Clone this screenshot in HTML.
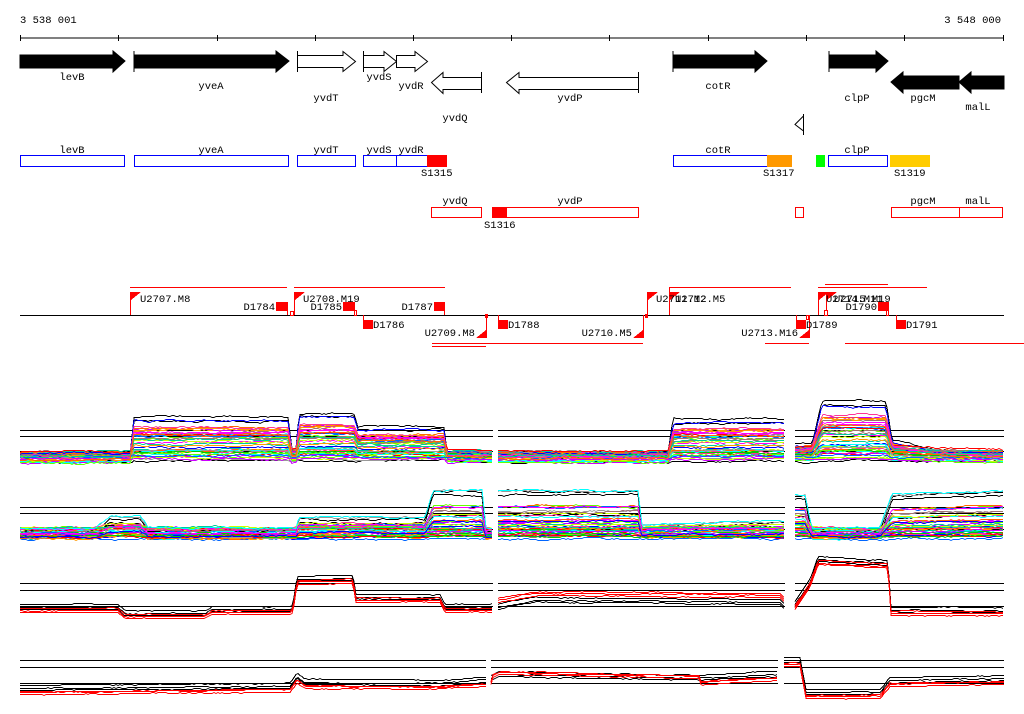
<!DOCTYPE html>
<html><head><meta charset="utf-8"><style>
html,body{margin:0;padding:0;background:#fff;width:1024px;height:714px;overflow:hidden}
svg{display:block}
text{font-family:"Liberation Mono","DejaVu Sans Mono",monospace;font-size:10.5px;fill:#000}
</style></head><body>
<svg id="s" width="1024" height="714" viewBox="0 0 1024 714" xmlns="http://www.w3.org/2000/svg" shape-rendering="crispEdges">
<!-- ruler -->
<text x="20" y="23">3 538 001</text>
<text x="1001" y="23" text-anchor="end">3 548 000</text>
<line x1="20" y1="38" x2="1004" y2="38" stroke="#000"/>
<g stroke="#000">
<line x1="20.5" y1="35" x2="20.5" y2="41"/><line x1="118.5" y1="35" x2="118.5" y2="41"/><line x1="217.5" y1="35" x2="217.5" y2="41"/><line x1="315.5" y1="35" x2="315.5" y2="41"/><line x1="413.5" y1="35" x2="413.5" y2="41"/><line x1="511.5" y1="35" x2="511.5" y2="41"/><line x1="609.5" y1="35" x2="609.5" y2="41"/><line x1="708.5" y1="35" x2="708.5" y2="41"/><line x1="806.5" y1="35" x2="806.5" y2="41"/><line x1="904.5" y1="35" x2="904.5" y2="41"/><line x1="1003.5" y1="35" x2="1003.5" y2="41"/>
</g>
<!-- gene arrows -->
<g stroke="#000" shape-rendering="auto">
<polygon points="20,55 113,55 113,51 125,61 113,72 113,68 20,68" fill="#000"/>
<polygon points="134,55 276,55 276,51 289,61 276,72 276,68 134,68" fill="#000"/>
<line x1="134" y1="51" x2="134" y2="72"/>
<polygon points="297.5,55.5 343,55.5 343,51.5 355.5,61.5 343,71.5 343,67.5 297.5,67.5" fill="#fff"/>
<line x1="297.5" y1="51" x2="297.5" y2="72"/>
<polygon points="363.5,55.5 384,55.5 384,51.5 396.5,61.5 384,71.5 384,67.5 363.5,67.5" fill="#fff"/>
<line x1="363.5" y1="51" x2="363.5" y2="72"/>
<polygon points="396.5,55.5 415,55.5 415,51.5 427.5,61.5 415,71.5 415,67.5 396.5,67.5" fill="#fff"/>
<polygon points="481.5,77.5 443,77.5 443,72.5 431.5,82.5 443,93.5 443,89.5 481.5,89.5" fill="#fff"/>
<line x1="481.5" y1="72" x2="481.5" y2="93"/>
<polygon points="638.5,77.5 519,77.5 519,72.5 506.5,82.5 519,93.5 519,89.5 638.5,89.5" fill="#fff"/>
<line x1="638.5" y1="72" x2="638.5" y2="93"/>
<polygon points="673,55 755,55 755,51 767,61 755,72 755,68 673,68" fill="#000"/>
<line x1="673" y1="51" x2="673" y2="72"/>
<polygon points="829,55 876,55 876,51 888,61 876,72 876,68 829,68" fill="#000"/>
<line x1="829" y1="51" x2="829" y2="72"/>
<polygon points="959,76 903,76 903,72 891,82 903,93 903,89 959,89" fill="#000"/>
<polygon points="1004,76 971,76 971,72 959,82 971,93 971,89 1004,89" fill="#000"/>
<polygon points="803.5,116 795,124.5 803.5,131" fill="#fff"/>
<line x1="803.5" y1="114" x2="803.5" y2="135"/>
</g>
<text x="72" y="80" text-anchor="middle">levB</text>
<text x="211" y="89" text-anchor="middle">yveA</text>
<text x="326" y="101" text-anchor="middle">yvdT</text>
<text x="379" y="80" text-anchor="middle">yvdS</text>
<text x="411" y="89" text-anchor="middle">yvdR</text>
<text x="455" y="121" text-anchor="middle">yvdQ</text>
<text x="570" y="101" text-anchor="middle">yvdP</text>
<text x="718" y="89" text-anchor="middle">cotR</text>
<text x="857" y="101" text-anchor="middle">clpP</text>
<text x="923" y="101" text-anchor="middle">pgcM</text>
<text x="978" y="110" text-anchor="middle">malL</text>
<!-- blue boxes -->
<g fill="#fff" stroke="#0000ff">
<rect x="20.5" y="155.5" width="104" height="11"/><rect x="134.5" y="155.5" width="154" height="11"/><rect x="297.5" y="155.5" width="58" height="11"/><rect x="363.5" y="155.5" width="33" height="11"/><rect x="396.5" y="155.5" width="31" height="11"/><rect x="673.5" y="155.5" width="94" height="11"/><rect x="828.5" y="155.5" width="59" height="11"/>
</g>
<rect x="427" y="155" width="20" height="12" fill="#ff0000"/>
<rect x="767" y="155" width="25" height="12" fill="#ff9900"/>
<rect x="816" y="155" width="9" height="12" fill="#00ff00"/>
<rect x="890" y="155" width="40" height="12" fill="#ffcc00"/>
<text x="72" y="153" text-anchor="middle">levB</text>
<text x="211" y="153" text-anchor="middle">yveA</text>
<text x="326" y="153" text-anchor="middle">yvdT</text>
<text x="379" y="153" text-anchor="middle">yvdS</text>
<text x="411" y="153" text-anchor="middle">yvdR</text>
<text x="718" y="153" text-anchor="middle">cotR</text>
<text x="857" y="153" text-anchor="middle">clpP</text>
<text x="421" y="176">S1315</text>
<text x="763" y="176">S1317</text>
<text x="894" y="176">S1319</text>
<!-- red boxes -->
<g fill="#fff" stroke="#ff0000">
<rect x="431.5" y="207.5" width="50" height="10"/><rect x="506.5" y="207.5" width="132" height="10"/><rect x="795.5" y="207.5" width="8" height="10"/><rect x="891.5" y="207.5" width="68" height="10"/><rect x="959.5" y="207.5" width="43" height="10"/>
</g>
<rect x="492" y="207" width="15" height="11" fill="#ff0000"/>
<text x="455" y="204" text-anchor="middle">yvdQ</text>
<text x="570" y="204" text-anchor="middle">yvdP</text>
<text x="923" y="204" text-anchor="middle">pgcM</text>
<text x="978" y="204" text-anchor="middle">malL</text>
<text x="484" y="228">S1316</text>
<!-- annotation track -->
<line x1="20" y1="315.5" x2="1004" y2="315.5" stroke="#000"/>
<g stroke="#ff0000">
<line x1="130" y1="287.5" x2="287" y2="287.5"/><line x1="294" y1="287.5" x2="445" y2="287.5"/>
<line x1="669" y1="287.5" x2="791" y2="287.5"/><line x1="818" y1="287.5" x2="927" y2="287.5"/><line x1="825" y1="284.5" x2="888" y2="284.5"/>
<line x1="432" y1="343.5" x2="643" y2="343.5"/><line x1="432" y1="346.5" x2="486" y2="346.5"/>
<line x1="765" y1="343.5" x2="809" y2="343.5"/><line x1="845" y1="343.5" x2="1024" y2="343.5"/>
<!-- stems -->
<line x1="130.5" y1="292" x2="130.5" y2="315"/><line x1="287.5" y1="302" x2="287.5" y2="315"/><line x1="294.5" y1="292" x2="294.5" y2="315"/>
<line x1="354.5" y1="302" x2="354.5" y2="315"/><line x1="363.5" y1="315" x2="363.5" y2="320"/><line x1="444.5" y1="302" x2="444.5" y2="315"/>
<line x1="486.5" y1="315" x2="486.5" y2="338"/><line x1="498.5" y1="315" x2="498.5" y2="320"/><line x1="643.5" y1="315" x2="643.5" y2="338"/>
<line x1="647.5" y1="292" x2="647.5" y2="315"/><line x1="669.5" y1="287" x2="669.5" y2="315"/><line x1="796.5" y1="315" x2="796.5" y2="320"/>
<line x1="809.5" y1="315" x2="809.5" y2="338"/><line x1="818.5" y1="292" x2="818.5" y2="315"/><line x1="826.5" y1="292" x2="826.5" y2="315"/>
<line x1="888.5" y1="302" x2="888.5" y2="315"/><line x1="896.5" y1="315" x2="896.5" y2="320"/>
</g>
<g fill="#ff0000">
<rect x="276" y="302" width="11" height="9"/><rect x="343" y="302" width="11" height="9"/><rect x="363" y="320" width="10" height="9"/><rect x="434" y="302" width="11" height="9"/>
<rect x="498" y="320" width="10" height="9"/><rect x="796" y="320" width="10" height="9"/><rect x="878" y="302" width="10" height="9"/><rect x="896" y="320" width="10" height="9"/>
<rect x="485" y="314" width="3" height="4"/><rect x="645" y="314" width="3" height="4"/>
<polygon points="131,292 141,292 131,300"/><polygon points="295,292 305,292 295,300"/>
<polygon points="648,292 658,292 648,300"/><polygon points="670,292 680,292 670,300"/>
<polygon points="819,292 829,292 819,300"/><polygon points="827,292 837,292 827,300"/>
<polygon points="486,330 486,338 476,338"/><polygon points="643,330 643,338 633,338"/><polygon points="809,330 809,338 799,338"/>
</g>
<g fill="#fff" stroke="#ff0000">
<rect x="290.5" y="311.5" width="3" height="4"/><rect x="354.5" y="310.5" width="2" height="5"/><rect x="806.5" y="315.5" width="2" height="4"/><rect x="824.5" y="310.5" width="3" height="5"/><rect x="886.5" y="310.5" width="2" height="5"/>
</g>
<text x="140" y="302">U2707.M8</text>
<text x="303" y="302">U2708.M19</text>
<text x="342" y="310" text-anchor="end">D1785</text>
<text x="275" y="310" text-anchor="end">D1784</text>
<text x="433" y="310" text-anchor="end">D1787</text>
<text x="373" y="328">D1786</text>
<text x="475" y="336" text-anchor="end">U2709.M8</text>
<text x="508" y="328">D1788</text>
<text x="632" y="336" text-anchor="end">U2710.M5</text>
<text x="656" y="302">U2711.M2</text>
<text x="675" y="302">U2712.M5</text>
<text x="798" y="336" text-anchor="end">U2713.M16</text>
<text x="806" y="328">D1789</text>
<text x="826" y="302">U2714.M11</text>
<text x="834" y="302">U2715.M19</text>
<text x="877" y="310" text-anchor="end">D1790</text>
<text x="906" y="328">D1791</text>
<g id="plots"></g>
</svg>
<script>
(function(){
var seed=12345;function rnd(){seed=(seed*1103515245+12345)&0x7fffffff;return seed/0x7fffffff;}
var g=document.getElementById('plots');var NS='http://www.w3.org/2000/svg';
function el(n,a){var e=document.createElementNS(NS,n);for(var k in a)e.setAttribute(k,a[k]);g.appendChild(e);return e;}
function interp(p,x){if(x<=p[0][0])return p[0][1];for(var i=1;i<p.length;i++){if(x<=p[i][0]){var a=p[i-1],b=p[i];return a[1]+(b[1]-a[1])*(x-a[0])/(b[0]-a[0]||1);}}return p[p.length-1][1];}
var cols=['#ff0000','#00cc00','#0000ff','#ff00ff','#00ffff','#ff9900','#ccff00','#999999','#a07070','#66ff00','#0066ff','#ff3399','#cc00ff','#00cc99','#ff6600'];
function panel(segs,hl,curves){
 hl.forEach(function(y){segs.forEach(function(s){el('line',{x1:s[0],y1:y+.5,x2:s[1],y2:y+.5,stroke:'#000'});});});
 curves.forEach(function(c){
  segs.forEach(function(s){
   var pts=[],w=0;
   for(var x=s[0];x<=s[1];x+=2){w+= (rnd()-.5)*c.nz; w*=0.9; var y=c.f(x)+w; pts.push(x+','+Math.round(y)+'.5');}
   el('polyline',{points:pts.join(' '),fill:'none',stroke:c.col,'stroke-width':1});
  });
 });
}
var S1=[[20,493],[498,785],[795,1004]],S4=[[20,486],[491,778],[784,1004]];
// panel 1
var p1=[[20,0],[130,0],[134,1],[288,1],[292,.2],[296,.2],[299,1.1],[355,1.1],[357,.75],[444,.75],[447,.1],[493,.1],[498,.05],[668,.05],[673,.95],[785,.95],[795,.3],[812,.3],[822,1.4],[886,1.4],[892,.4],[935,.15],[1004,.1]];
var c1=[];for(var i=0;i<45;i++){(function(){var r=rnd(),b=451+rnd()*12,col=i<3?'#000':cols[i%cols.length];var rr=i<2?.95+rnd()*.1:r*r;c1.push({col:col,nz:1.2,f:function(x){return b-interp(p1,x)*rr*38;}});})();}
panel(S1,[430,436,451],c1);
// panel 2
var p2=[[20,0],[95,0],[110,.3],[140,.3],[148,0],[296,0],[299,.3],[425,.3],[433,1],[482,1],[486,0],[493,0],[498,1],[638,1],[642,.1],[780,.2],[785,.2],[795,.9],[805,.9],[812,0],[880,0],[892,.9],[1004,1]];
var c2=[];for(var i=0;i<45;i++){(function(){var r=rnd(),b=527+rnd()*12,col=i<3?'#000':cols[(i+5)%cols.length];var rr=i<2?.95+rnd()*.1:r*r*r;c2.push({col:col,nz:1.2,f:function(x){return b-interp(p2,x)*rr*40;}});})();}
panel(S1,[507,513,529],c2);
// panel 3
var p3=[[20,0],[118,0],[125,-6],[205,-6],[212,-2],[290,-2],[293,0],[297,28],[353,29],[356,10],[440,10],[445,0],[493,0],[498,0],[535,7],[780,5],[785,0],[795,3],[810,25],[818,48],[888,44],[891,-3],[1004,-3]];
var c3=[];[['#000',0],['#000',-3],['#000',2],['#ff0000',3],['#ff0000',5],['#ff0000',1]].forEach(function(a){var o=a[1];var red=a[0]!='#000';c3.push({col:a[0],nz:.6,f:function(x){var v=interp(p3,x);if(red&&x>495&&x<785)v+=10;return 607+o-v;}});});
panel(S1,[583,590,606],c3);
// panel 4
var p4=[[20,0],[290,2],[297,12],[305,6],[440,5],[486,8],[491,10],[500,14],[700,10],[778,14],[784,28],[800,28],[806,-4],[880,-4],[890,8],[1004,10]];
var c4=[];[['#000',0],['#000',-3],['#000',2],['#ff0000',4],['#ff0000',6],['#ff0000',3]].forEach(function(a){var o=a[1];var red=a[0]!='#000';c4.push({col:a[0],nz:.6,f:function(x){var v=interp(p4,x);if(red&&x>491&&x<700)v+=6;return 688+o-v;}});});
panel(S4,[660,667,683],c4);
})();
</script>
</body></html>
